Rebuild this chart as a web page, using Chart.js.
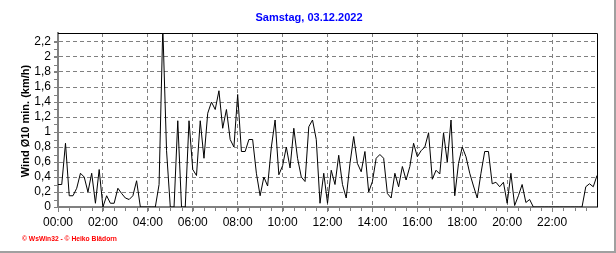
<!DOCTYPE html>
<html><head><meta charset="utf-8">
<script src="https://cdn.jsdelivr.net/npm/chart.js@4/dist/chart.umd.min.js"></script>
<style>html,body{margin:0;padding:0;background:#fff;}#wrap{width:616px;height:253px;position:relative;}</style>
</head><body><div id="wrap"><canvas id="c" width="616" height="253"></canvas></div>
<script>
const titleText = "Samstag, 03.12.2022";
const yAxisTitle = "Wind Ø10 min. (km/h)";
const footerText = "© WsWin32 - © Heiko Blädorn";
const intervalMinutes = 10;
const xTickLabels = ["00:00","02:00","04:00","06:00","08:00","10:00","12:00","14:00","16:00","18:00","20:00","22:00"];
const yMax = 2.32;
const windValues = [
  0.3,0.3,0.85,0.15,0.15,0.25,0.45,0.4,0.2,0.45,0.05,0.5,
  0,0.15,0.05,0.05,0.25,0.18,0.12,0.1,0.15,0.35,0,0,
  0,0,0,0.3,2.4,0.75,0,0,1.15,0,0,1.15,
  0.5,0.42,1.15,0.65,1.25,1.4,1.3,1.55,1.05,1.3,0.9,0.8,
  1.5,0.74,0.74,0.9,0.9,0.45,0.15,0.4,0.28,0.8,1.16,0.43,
  0.55,0.8,0.52,1.05,0.65,0.4,0.34,1.07,1.16,0.9,0.05,0.45,
  0.05,0.49,0.3,0.69,0.3,0.12,0.58,0.94,0.58,0.47,0.74,0.2,
  0.34,0.65,0.7,0.65,0.18,0.12,0.45,0.27,0.54,0.36,0.54,0.85,
  0.67,0.75,0.8,0.99,0.37,0.49,0.44,0.99,0.6,1.16,0.15,0.58,
  0.8,0.67,0.45,0.28,0.12,0.45,0.74,0.74,0.31,0.33,0.27,0.33,
  0.05,0.45,0.02,0.15,0.3,0.06,0.1,0,0,0,0,0,
  0,0,0,0,0,0,0,0,0,0.27,0.31,0.27,
  0.42
];
const points = windValues.map((v,i)=>({x:i*intervalMinutes,y:v}));

const decor = {
  id:'decor',
  beforeDraw(chart){
    const ctx=chart.ctx; ctx.save();
    ctx.fillStyle='#fff'; ctx.fillRect(0,0,chart.width,chart.height);
    ctx.restore();
  },
  afterDraw(chart){
    const ctx=chart.ctx, a=chart.chartArea;
    const xs=chart.scales.x, ys=chart.scales.y;
    ctx.save();
    ctx.strokeStyle='#000'; ctx.lineWidth=1;
    ctx.beginPath();
    ctx.moveTo(a.left, a.top+0.5); ctx.lineTo(a.right+0.5, a.top+0.5);
    ctx.lineTo(a.right+0.5, a.bottom);
    ctx.stroke();
    ctx.strokeStyle='#808080'; ctx.lineWidth=1;
    ctx.beginPath();
    for(let m=0;m<1440;m+=30){
      const px=Math.round(xs.getPixelForValue(m))+0.5;
      ctx.moveTo(px,a.bottom+1); ctx.lineTo(px,a.bottom+4);
    }
    for(let k=0;k<=22;k++){
      const py=Math.round(ys.getPixelForValue(k/10))+0.5;
      ctx.moveTo(a.left-4,py); ctx.lineTo(a.left-1,py);
    }
    ctx.stroke();
    ctx.fillStyle='#0000ff';
    ctx.font='bold 11px "Liberation Sans", Arial, sans-serif';
    ctx.textAlign='center'; ctx.textBaseline='middle';
    ctx.fillText(titleText, 309, 18);
    ctx.fillStyle='#000';
    ctx.translate(26, 121);
    ctx.rotate(-Math.PI/2);
    ctx.fillText(yAxisTitle, 0, 0);
    ctx.setTransform(1,0,0,1,0,0);
    ctx.fillStyle='#ff0000';
    ctx.textAlign='left';
    ctx.font='bold 7px "Liberation Sans", Arial, sans-serif';
    const w=ctx.measureText(footerText).width;
    const fs=Math.max(5, 7*95/w);
    ctx.font='bold '+fs.toFixed(2)+'px "Liberation Sans", Arial, sans-serif';
    ctx.fillText(footerText, 22, 239);
    ctx.fillStyle='#a0a0a0';
    ctx.fillRect(0,251,616,2);
    ctx.fillRect(614,0,2,253);
    ctx.restore();
  }
};

new Chart(document.getElementById('c'), {
  type:'line',
  data:{datasets:[{data:points,borderColor:'#000',borderWidth:1,pointRadius:0,tension:0,fill:false}]},
  options:{
    responsive:false, animation:false, devicePixelRatio:1,
    layout:{padding:{left:0,top:33,right:19,bottom:0}},
    plugins:{legend:{display:false},title:{display:false},tooltip:{enabled:false}},
    scales:{
      x:{type:'linear',min:0,max:1440,
        afterFit(s){s.height=46;},
        ticks:{stepSize:120,autoSkip:false,maxRotation:0,padding:3,color:'#000',
          font:{family:'"Liberation Sans", Arial, sans-serif',size:12},
          callback(v){const i=Math.round(v/120);return i<xTickLabels.length?xTickLabels[i]:null;}},
        grid:{color:'#808080',lineWidth:1,tickLength:5,tickColor:'#808080',tickBorderDash:[]},
        border:{display:true,color:'#808080',width:2,dash:[4,3]}
      },
      y:{type:'linear',min:0,max:yMax,
        afterFit(s){s.width=58;},
        ticks:{stepSize:0.2,includeBounds:false,autoSkip:false,padding:3,color:'#000',
          font:{family:'"Liberation Sans", Arial, sans-serif',size:12},
          callback(v){const r=Math.round(v*10)/10;return String(r).replace('.',',');}},
        grid:{color:'#808080',lineWidth:1,tickLength:4,tickColor:'#808080',tickBorderDash:[]},
        border:{display:true,color:'#808080',width:2,dash:[4,3]}
      }
    }
  },
  plugins:[decor]
});
</script>
</body></html>
